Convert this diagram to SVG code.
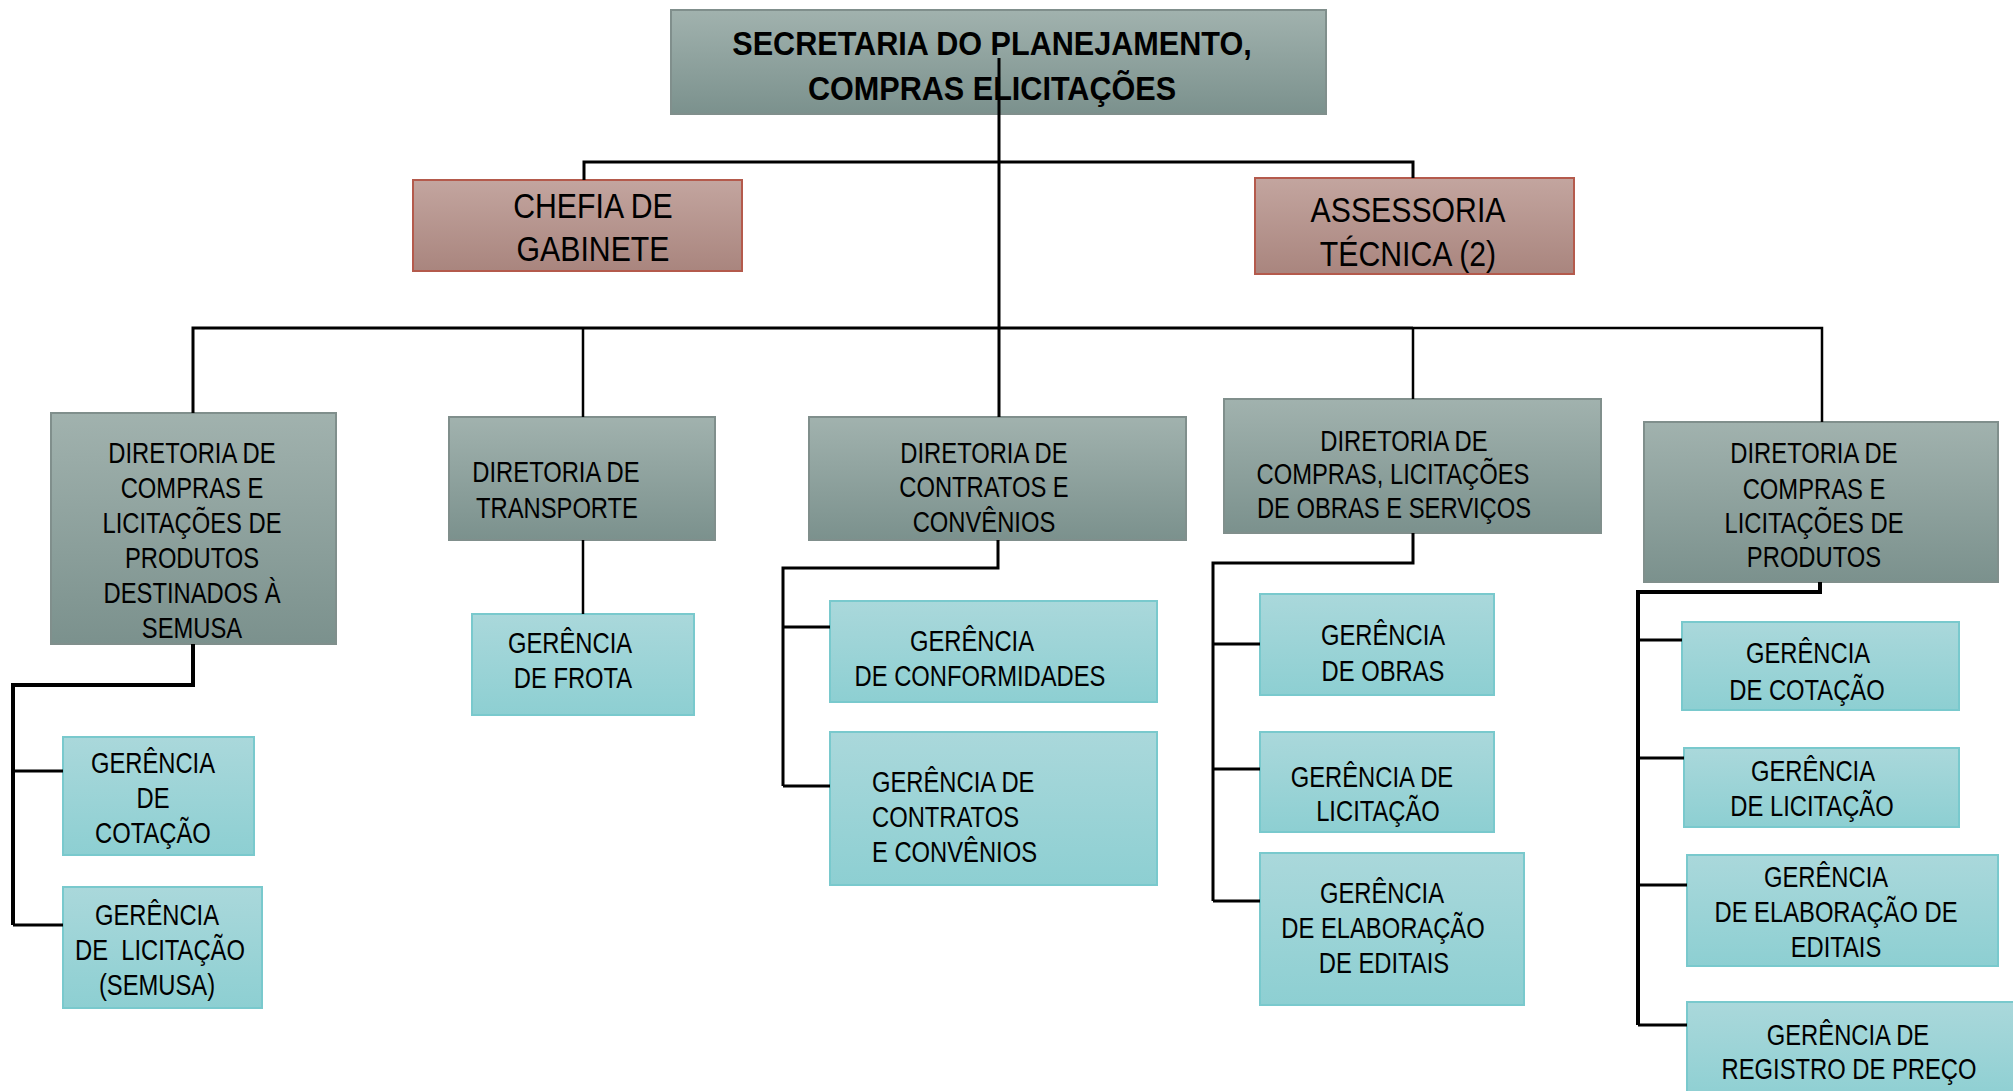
<svg xmlns="http://www.w3.org/2000/svg" width="2013" height="1091" viewBox="0 0 2013 1091">
<defs>
<linearGradient id="gDir" x1="0" y1="0" x2="0" y2="1"><stop offset="0" stop-color="#a1b2ae"/><stop offset="1" stop-color="#7b918d"/></linearGradient>
<linearGradient id="gRed" x1="0" y1="0" x2="0" y2="1"><stop offset="0" stop-color="#c3a59f"/><stop offset="1" stop-color="#a9857e"/></linearGradient>
<linearGradient id="gTeal" x1="0" y1="0" x2="0" y2="1"><stop offset="0" stop-color="#aad8db"/><stop offset="1" stop-color="#8dcfd2"/></linearGradient>
<style>
.dir{fill:url(#gDir);stroke:#808f8c;stroke-width:2}
.red{fill:url(#gRed);stroke:#b45a4c;stroke-width:2}
.ger{fill:url(#gTeal);stroke:#79c9cd;stroke-width:2}
.t{font-family:"Liberation Sans",Arial,sans-serif;font-size:29px;fill:#000;text-anchor:middle;transform-box:fill-box;transform-origin:50% 50%;transform:scaleX(0.82)}
.tl{text-anchor:start;transform-origin:0% 50%}
.big{font-size:36px;transform:scaleX(0.84)}
.title{font-family:"Liberation Sans",Arial,sans-serif;font-weight:bold;font-size:34px;fill:#000;text-anchor:middle;transform-box:fill-box;transform-origin:50% 50%;transform:scaleX(0.9)}
.c{fill:none;stroke:#000;stroke-width:3}
.c2{fill:none;stroke:#000;stroke-width:2.5}
.c4{fill:none;stroke:#000;stroke-width:4}
</style>
</defs>
<rect width="2013" height="1091" fill="#fff"/>

<g id="secretaria">
<rect class="dir" x="671" y="10" width="655" height="104"/>
<text class="title" x="992" y="55">SECRETARIA DO PLANEJAMENTO,</text>
<text class="title" x="992" y="100">COMPRAS ELICITAÇÕES</text>
</g>

<g id="chefia">
<rect class="red" x="413" y="180" width="329" height="91"/>
<text class="t big" x="593" y="218">CHEFIA DE</text>
<text class="t big" x="593" y="261">GABINETE</text>
</g>

<g id="assessoria">
<rect class="red" x="1255" y="178" width="319" height="96"/>
<text class="t big" x="1408" y="222">ASSESSORIA</text>
<text class="t big" x="1408" y="266">TÉCNICA (2)</text>
</g>

<g id="dir-semusa">
<rect class="dir" x="51" y="413" width="285" height="231"/>
<text class="t" x="192" y="463">DIRETORIA DE</text>
<text class="t" x="192" y="498">COMPRAS E</text>
<text class="t" x="192" y="533">LICITAÇÕES DE</text>
<text class="t" x="192" y="568">PRODUTOS</text>
<text class="t" x="192" y="603">DESTINADOS À</text>
<text class="t" x="192" y="638">SEMUSA</text>
</g>

<g id="ger-cotacao-semusa">
<rect class="ger" x="63" y="737" width="191" height="118"/>
<text class="t" x="153" y="773">GERÊNCIA</text>
<text class="t" x="153" y="808">DE</text>
<text class="t" x="153" y="843">COTAÇÃO</text>
</g>

<g id="ger-licitacao-semusa">
<rect class="ger" x="63" y="887" width="199" height="121"/>
<text class="t" x="157" y="925">GERÊNCIA</text>
<text class="t" x="160" y="960" xml:space="preserve">DE  LICITAÇÃO</text>
<text class="t" x="157" y="995">(SEMUSA)</text>
</g>

<g id="dir-transporte">
<rect class="dir" x="449" y="417" width="266" height="123"/>
<text class="t" x="556" y="482">DIRETORIA DE</text>
<text class="t" x="557" y="518">TRANSPORTE</text>
</g>

<g id="ger-frota">
<rect class="ger" x="472" y="614" width="222" height="101"/>
<text class="t" x="570" y="653">GERÊNCIA</text>
<text class="t" x="573" y="688">DE FROTA</text>
</g>

<g id="dir-contratos">
<rect class="dir" x="809" y="417" width="377" height="123"/>
<text class="t" x="984" y="463">DIRETORIA DE</text>
<text class="t" x="984" y="497">CONTRATOS E</text>
<text class="t" x="984" y="532">CONVÊNIOS</text>
</g>

<g id="ger-conformidades">
<rect class="ger" x="830" y="601" width="327" height="101"/>
<text class="t" x="972" y="651">GERÊNCIA</text>
<text class="t" x="980" y="686">DE CONFORMIDADES</text>
</g>

<g id="ger-contratos">
<rect class="ger" x="830" y="732" width="327" height="153"/>
<text class="t tl" x="872" y="792">GERÊNCIA DE</text>
<text class="t tl" x="872" y="827">CONTRATOS</text>
<text class="t tl" x="872" y="862">E CONVÊNIOS</text>
</g>

<g id="dir-obras">
<rect class="dir" x="1224" y="399" width="377" height="134"/>
<text class="t" x="1404" y="451">DIRETORIA DE</text>
<text class="t" x="1393" y="484">COMPRAS, LICITAÇÕES</text>
<text class="t" x="1394" y="518">DE OBRAS E SERVIÇOS</text>
</g>

<g id="ger-obras">
<rect class="ger" x="1260" y="594" width="234" height="101"/>
<text class="t" x="1383" y="645">GERÊNCIA</text>
<text class="t" x="1383" y="681">DE OBRAS</text>
</g>

<g id="ger-licitacao-obras">
<rect class="ger" x="1260" y="732" width="234" height="100"/>
<text class="t" x="1372" y="787">GERÊNCIA DE</text>
<text class="t" x="1378" y="821">LICITAÇÃO</text>
</g>

<g id="ger-editais-obras">
<rect class="ger" x="1260" y="853" width="264" height="152"/>
<text class="t" x="1382" y="903">GERÊNCIA</text>
<text class="t" x="1383" y="938">DE ELABORAÇÃO</text>
<text class="t" x="1384" y="973">DE EDITAIS</text>
</g>

<g id="dir-produtos">
<rect class="dir" x="1644" y="422" width="354" height="160"/>
<text class="t" x="1814" y="463">DIRETORIA DE</text>
<text class="t" x="1814" y="499">COMPRAS E</text>
<text class="t" x="1814" y="533">LICITAÇÕES DE</text>
<text class="t" x="1814" y="567">PRODUTOS</text>
</g>

<g id="ger-cotacao-produtos">
<rect class="ger" x="1682" y="622" width="277" height="88"/>
<text class="t" x="1808" y="663">GERÊNCIA</text>
<text class="t" x="1807" y="700">DE COTAÇÃO</text>
</g>

<g id="ger-licitacao-produtos">
<rect class="ger" x="1684" y="748" width="275" height="79"/>
<text class="t" x="1813" y="781">GERÊNCIA</text>
<text class="t" x="1812" y="816">DE LICITAÇÃO</text>
</g>

<g id="ger-editais-produtos">
<rect class="ger" x="1687" y="855" width="311" height="111"/>
<text class="t" x="1826" y="887">GERÊNCIA</text>
<text class="t" x="1836" y="922">DE ELABORAÇÃO DE</text>
<text class="t" x="1836" y="957">EDITAIS</text>
</g>

<g id="ger-registro">
<rect class="ger" x="1687" y="1002" width="340" height="100"/>
<text class="t" x="1848" y="1045">GERÊNCIA DE</text>
<text class="t" x="1849" y="1079">REGISTRO DE PREÇO</text>
</g>

<g id="connectors">
<path class="c" d="M999 58V417"/>
<path class="c" d="M584 180V162H1413V178"/>
<path class="c" d="M193 413V328H1413"/>
<path class="c2" d="M1413 328H1822V422"/>
<path class="c2" d="M583 328V417M1413 328V399"/>
<path class="c4" d="M193 644V685H13V925"/>
<path class="c" d="M13 771H63M13 925H63"/>
<path class="c2" d="M583 540V614"/>
<path class="c" d="M998 540V568H783V786"/>
<path class="c" d="M783 627H830M783 786H830"/>
<path class="c" d="M1413 533V563H1213V901"/>
<path class="c" d="M1213 644H1260M1213 769H1260M1213 901H1260"/>
<path class="c4" d="M1820 582V592H1638V1025"/>
<path class="c" d="M1638 640H1682M1638 758H1684M1638 885H1687M1638 1025H1687"/>
</g>
</svg>
